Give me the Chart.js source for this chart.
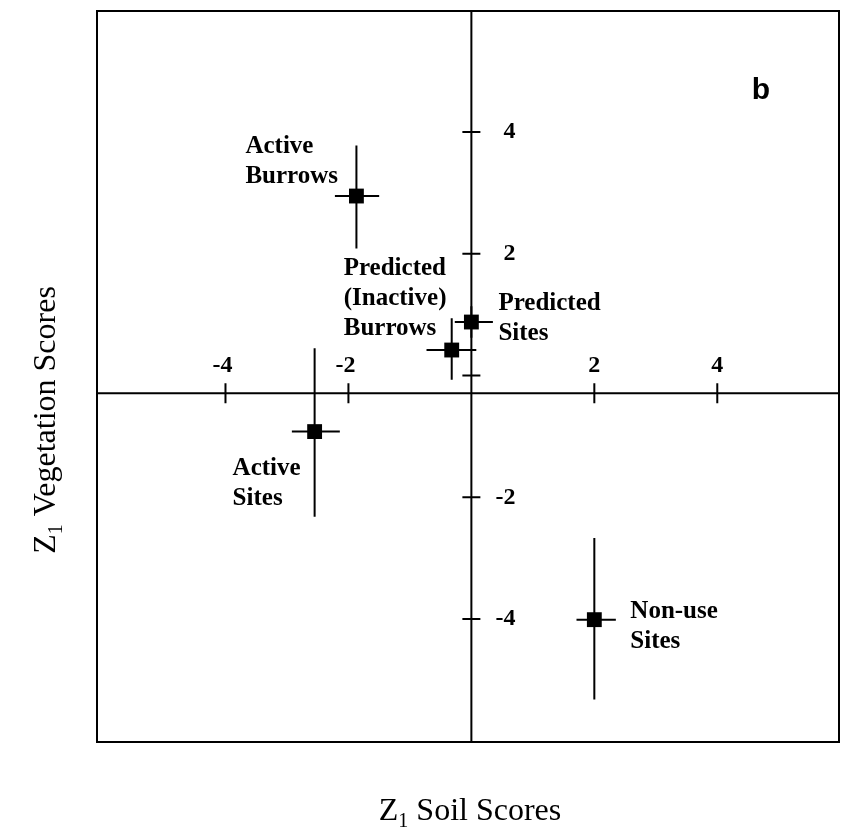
<!DOCTYPE html>
<html>
<head>
<meta charset="utf-8">
<script src="https://cdn.jsdelivr.net/npm/chart.js@4.4.1/dist/chart.umd.min.js"></script>
<style>
  html, body { margin: 0; padding: 0; background: #fff; }
  #wrap { width: 841px; height: 832px; }
</style>
</head>
<body>
<div id="wrap"><canvas id="c" width="841" height="832"></canvas></div>
<script>
// ---- data ----
const groups = ['Active Burrows', 'Predicted (Inactive) Burrows', 'Predicted Sites', 'Active Sites', 'Non-use Sites'];
const groupLabelLines = [['Active', 'Burrows'], ['Predicted', '(Inactive)', 'Burrows'], ['Predicted', 'Sites'], ['Active', 'Sites'], ['Non-use', 'Sites']];
const soilScore = [-1.87, -0.32, 0.00, -2.55, 2.00];
const vegScore  = [ 2.95,  0.42, 0.88, -0.92, -4.01];
const soilLow   = [-2.22, -0.73, -0.27, -2.92, 1.71];
const soilHigh  = [-1.50,  0.08,  0.35, -2.14, 2.35];
const vegLow    = [ 2.09, -0.07,  0.62, -2.32, -5.32];
const vegHigh   = [ 3.78,  0.94,  1.14,  0.45, -2.67];
const xTickValues = [-4, -2, 2, 4];
const yTickValues = [4, 2, 0, -2, -4];
const yTickLabels = ['4', '2', '', '-2', '-4'];
const xAxisCrossAt = -0.29;   // horizontal axis line drawn slightly below y = 0 in the original
const yAxisCrossAt = 0;
const panelLetter = 'b';
const xTitle = ['Z', '1', ' Soil Scores'];
const yTitle = ['Z', '1', ' Vegetation Scores'];

// ---- styling / layout (not data) ----
const labelOffsets = [[-111, -43], [-108, -75], [27, -12], [-82, 43], [36, -2]];
const LABEL_FONT = 'bold 25px "Liberation Serif"';
const TICK_FONT = 'bold 24px "Liberation Serif"';

const points = soilScore.map((x, i) => ({ x: x, y: vegScore[i] }));

const decor = {
  id: 'decor',
  beforeDatasetsDraw(chart) {
    const { ctx, chartArea: a, scales: { x, y } } = chart;
    ctx.save();
    ctx.strokeStyle = '#000';
    ctx.lineCap = 'butt';
    // frame
    ctx.lineWidth = 2;
    ctx.strokeRect(a.left, a.top, a.right - a.left, a.bottom - a.top);
    // crossing axes
    const ax = x.getPixelForValue(yAxisCrossAt);
    const ay = y.getPixelForValue(xAxisCrossAt);
    ctx.beginPath();
    ctx.moveTo(a.left, ay); ctx.lineTo(a.right, ay);
    ctx.moveTo(ax, a.top); ctx.lineTo(ax, a.bottom);
    ctx.stroke();
    // tick marks
    ctx.lineWidth = 2;
    ctx.beginPath();
    xTickValues.forEach(v => { const px = x.getPixelForValue(v); ctx.moveTo(px, ay - 10); ctx.lineTo(px, ay + 10); });
    yTickValues.forEach(v => { const py = y.getPixelForValue(v); ctx.moveTo(ax - 9, py); ctx.lineTo(ax + 9, py); });
    ctx.stroke();
    // tick labels
    ctx.fillStyle = '#000';
    ctx.font = TICK_FONT;
    ctx.textAlign = 'center';
    ctx.textBaseline = 'middle';
    xTickValues.forEach(v => { ctx.fillText(String(v), x.getPixelForValue(v) - (v < 0 ? 3 : 0), ay - 27); });
    ctx.textAlign = 'right';
    yTickValues.forEach((v, i) => { if (yTickLabels[i]) ctx.fillText(yTickLabels[i], ax + 44, y.getPixelForValue(v)); });
    // error bars
    ctx.lineWidth = 2;
    ctx.beginPath();
    soilScore.forEach((sx, i) => {
      const py = y.getPixelForValue(vegScore[i]);
      const px = x.getPixelForValue(sx);
      ctx.moveTo(x.getPixelForValue(soilLow[i]), py); ctx.lineTo(x.getPixelForValue(soilHigh[i]), py);
      ctx.moveTo(px, y.getPixelForValue(vegLow[i])); ctx.lineTo(px, y.getPixelForValue(vegHigh[i]));
    });
    ctx.stroke();
    ctx.restore();
  },
  afterDraw(chart) {
    const { ctx, chartArea: a, scales: { x, y } } = chart;
    ctx.save();
    ctx.fillStyle = '#000';
    // group labels
    ctx.font = LABEL_FONT;
    ctx.textAlign = 'left';
    ctx.textBaseline = 'alphabetic';
    groupLabelLines.forEach((lines, i) => {
      const px = x.getPixelForValue(soilScore[i]) + labelOffsets[i][0];
      const py = y.getPixelForValue(vegScore[i]) + labelOffsets[i][1];
      lines.forEach((t, k) => ctx.fillText(t, px, py + k * 30));
    });
    // panel letter
    ctx.font = 'bold 30px "Liberation Sans"';
    ctx.textAlign = 'center';
    ctx.textBaseline = 'middle';
    ctx.fillText(panelLetter, a.right - 78, a.top + 80);
    // titles with subscript
    function drawTitle(parts, cx, cy) {
      const big = '32px "Liberation Serif"', small = '20px "Liberation Serif"';
      ctx.font = big; const w0 = ctx.measureText(parts[0]).width; const w2 = ctx.measureText(parts[2]).width;
      ctx.font = small; const w1 = ctx.measureText(parts[1]).width;
      const total = w0 + w1 + w2;
      let sx = cx - total / 2;
      ctx.textAlign = 'left'; ctx.textBaseline = 'alphabetic';
      ctx.font = big; ctx.fillText(parts[0], sx, cy);
      ctx.font = small; ctx.fillText(parts[1], sx + w0, cy + 7);
      ctx.font = big; ctx.fillText(parts[2], sx + w0 + w1, cy);
    }
    drawTitle(xTitle, 470, 820);
    ctx.translate(55, 420);
    ctx.rotate(-Math.PI / 2);
    drawTitle(yTitle, 0, 0);
    ctx.restore();
  }
};

new Chart(document.getElementById('c'), {
  type: 'scatter',
  data: {
    labels: groups,
    datasets: [{
      label: 'Group means',
      data: points,
      pointStyle: 'rect',
      pointRadius: 10.5,
      pointHoverRadius: 10.5,
      backgroundColor: '#000',
      borderColor: '#000',
      borderWidth: 0
    }]
  },
  options: {
    responsive: false,
    animation: false,
    devicePixelRatio: 1,
    layout: { autoPadding: false, padding: { left: 97, right: 2, top: 11, bottom: 90 } },
    plugins: { legend: { display: false }, tooltip: { enabled: false } },
    scales: {
      x: { type: 'linear', min: -6.09, max: 5.98, display: false },
      y: { type: 'linear', min: -6.02, max: 5.99, display: false }
    }
  },
  plugins: [decor]
});
</script>
</body>
</html>
